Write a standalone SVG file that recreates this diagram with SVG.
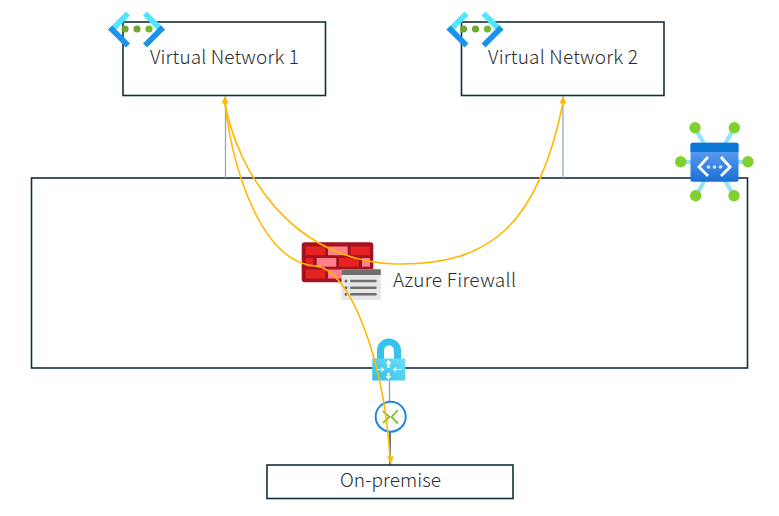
<svg xmlns="http://www.w3.org/2000/svg" width="779" height="516" viewBox="0 0 779 516">
<style>
.box{fill:#fff;stroke:#12303f;stroke-width:1.6}
.lbl{font-family:"Noto Sans CJK JP","Noto Sans",sans-serif;font-size:19px;fill:#2b2b2b;font-weight:300}
.gray{fill:none;stroke:#8fa9b8;stroke-width:1.3}
.flow{fill:none;stroke:#ffb900;stroke-width:1.6}
.ar{fill:#ffb900}
.br{fill:#e62323}.pk{fill:#ff8089}
</style>
<defs>
<linearGradient id="hub" x1="0" y1="0" x2="0" y2="1"><stop offset="0" stop-color="#6aa6f5"/><stop offset="1" stop-color="#1b6fd6"/></linearGradient>
<linearGradient id="gw" x1="0" y1="1" x2="1" y2="0"><stop offset="0" stop-color="#2fbfe6"/><stop offset="1" stop-color="#6fdff7"/></linearGradient>
<g id="vnet">
<path d="M18 0.500L0 18.500L4.200 22.500L22 4.500z" fill="#50e6ff"/>
<path d="M0 18.500L18 36.500L22 32.500L4.200 14.500z" fill="#1b93eb"/>
<path d="M39 0.500L57 18.500L52.800 22.500L35 4.500z" fill="#50e6ff"/>
<path d="M57 18.500L39 36.500L35 32.500L52.800 14.500z" fill="#1b93eb"/>
<circle cx="17" cy="18" r="3.600" fill="#6fa82c"/><circle cx="29" cy="18" r="3.600" fill="#6fa82c"/><circle cx="41" cy="18" r="3.600" fill="#76b82f"/>
</g>
</defs>
<g id="hub-box"><rect class="box" x="31.500" y="178" width="716" height="190"/></g>
<g id="connectors">
<path class="gray" d="M225.500 96V178"/>
<path class="gray" d="M563 96V178"/>
<path d="M389.500 380V403" stroke="#8fa9b8" stroke-width="1.500" fill="none"/>
<path d="M390 431V465" stroke="#12303f" stroke-width="1.300" fill="none"/>
</g>
<g id="vnet1"><rect class="box" x="123" y="22" width="202.500" height="73.500"/><text class="lbl" x="150" y="64" textLength="149">Virtual Network 1</text><use href="#vnet" x="108" y="11"/></g>
<g id="vnet2"><rect class="box" x="461.500" y="22" width="202.500" height="73.500"/><text class="lbl" x="488" y="64" textLength="150">Virtual Network 2</text><use href="#vnet" x="446.500" y="11"/></g>
<g id="onprem"><rect class="box" x="267" y="465" width="246" height="33.500"/><text class="lbl" x="340" y="487" textLength="101">On-premise</text></g>
<g id="firewall">
<rect x="301.700" y="242.300" width="71.600" height="40" rx="3" fill="#a31420"/>
<rect class="br" x="305.700" y="246.500" width="19.500" height="8.700"/><rect class="pk" x="328" y="246.500" width="19.700" height="8.700"/><rect class="br" x="350.700" y="246.500" width="19.300" height="8.700"/>
<rect class="br" x="305.700" y="258" width="7.500" height="8.700"/><rect class="pk" x="316.700" y="258" width="19.500" height="8.700"/><rect class="br" x="339" y="258" width="19.700" height="8.700"/><rect class="pk" x="362" y="258" width="8" height="8.700"/>
<rect class="br" x="305.700" y="269.500" width="19.500" height="9"/><rect class="pk" x="328" y="269.500" width="19.700" height="9"/><rect class="br" x="350.700" y="269.500" width="19.300" height="9"/>
<rect x="341.500" y="269.300" width="39.300" height="30.700" rx="1" fill="#e6e6e6"/><path d="M341.500 270.300a1 1 0 0 1 1-1h37.300a1 1 0 0 1 1 1V275h-39.300z" fill="#6f6f6f"/>
<g fill="#6f6f6f"><circle cx="346" cy="281" r="1.500"/><circle cx="346" cy="287.700" r="1.500"/><circle cx="346" cy="294.300" r="1.500"/>
<rect x="350" y="279.800" width="26.700" height="2.400" rx="1.200"/><rect x="350" y="286.500" width="26.700" height="2.400" rx="1.200"/><rect x="350" y="293.100" width="26.700" height="2.400" rx="1.200"/></g>
<text class="lbl" x="393" y="287" textLength="123">Azure Firewall</text>
</g>
<g id="vpn-gateway">
<path d="M380.500 360V350.500a8.500 8.500 0 0 1 17 0V360" fill="none" stroke="#36c3e8" stroke-width="7"/>
<rect x="372.300" y="358.500" width="33" height="22" fill="url(#gw)"/>
<g fill="#fff"><path d="M388.500 360l3 3.500h-2v4.500h-2v-4.500h-2z"/><path d="M388.500 379.500l3-3.500h-2v-3h-2v3h-2z"/><path d="M376 369h5.500v-2l3 2.500-3 2.500v-2h-5.500z"/><path d="M402 369h-6v-2l-3 2.500 3 2.500v-2h6z"/></g>
</g>
<g id="connection">
<circle cx="390.700" cy="416.700" r="15" fill="#fff" stroke="#2186e0" stroke-width="2"/>
<path d="M383 411L389.500 417L383 423" fill="none" stroke="#7fba3a" stroke-width="1.800"/>
<path d="M398 410L391.500 417L398 423.500" fill="none" stroke="#7fba3a" stroke-width="1.800"/>
</g>
<g id="hub-icon">
<g stroke="#8fe3fb" stroke-width="4" fill="none"><path d="M695 128L714.500 162M734.300 128L714.500 162M696 196L714.500 162M734 196L714.500 162M681 162H748"/></g>
<g fill="#7fd12f"><circle cx="695" cy="127.700" r="5.700"/><circle cx="734.300" cy="127.700" r="5.700"/><circle cx="680.700" cy="161.700" r="5.700"/><circle cx="748" cy="161.700" r="5.700"/><circle cx="695.700" cy="195.700" r="5.700"/><circle cx="734" cy="195.700" r="5.700"/></g>
<rect x="690.500" y="142.700" width="48" height="39" rx="2" fill="url(#hub)"/>
<path d="M690.500 144.700a2 2 0 0 1 2-2h44a2 2 0 0 1 2 2V152h-48z" fill="#0a78d4"/>
<g fill="none" stroke="#fff" stroke-width="2.800"><path d="M708 157L699 167L708 176"/><path d="M721 157L730 167L721 176"/></g>
<g fill="#d5e6fb"><circle cx="708.500" cy="167" r="1.800"/><circle cx="714.500" cy="167" r="1.800"/><circle cx="720.500" cy="167" r="1.800"/></g>
</g>
<g id="flows">
<path class="flow" d="M225 103C232 170 262 262 315 266C350 268 384 360 390 458"/>
<path class="flow" d="M225 103C237 170 290 260 395 264C490 266 538 225 563 103"/>
<path class="ar" d="M225 96l3.500 7.500h-7z"/>
<path class="ar" d="M563 96l3.500 7.500h-7z"/>
<path class="ar" d="M390.500 464l-3.500-7.500h7z"/>
</g>
</svg>
